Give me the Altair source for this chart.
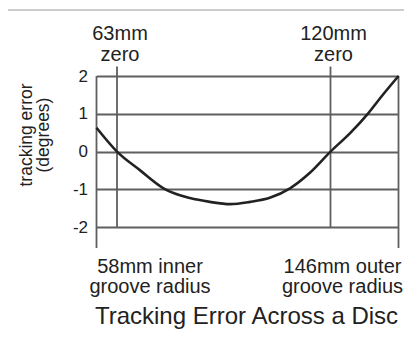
import altair as alt
import pandas as pd

# ---- data ----
radius_mm = [58, 63, 69.1, 75.4, 82.5, 87.8, 93.2, 98.5, 103.8, 109.2, 114.5, 120, 127.5, 134.5, 140.1, 146]
error_deg = [0.63, 0.0, -0.49, -0.97, -1.23, -1.33, -1.39, -1.33, -1.22, -0.97, -0.56, 0.0, 0.49, 1.02, 1.51, 2.0]
y_ticks = [-2, -1, 0, 1, 2]
zero_radius = [63, 120]
zero_labels = ["63mm\nzero", "120mm\nzero"]
groove_radius = [58, 146]
groove_labels = ["58mm inner\ngroove radius", "146mm outer\ngroove radius"]
chart_title = "Tracking Error Across a Disc"
y_title = "tracking error\n(degrees)"

FONT = "Liberation Sans"
INK = "#222222"
GRID = "#5f5f5f"

# the printed radius axis is not linear: piecewise mapping between the
# breakpoints 58, 63, 120 and 146 mm (computed by Vega-Lite)
PIECEWISE = (
    "datum.r <= 63 ? (datum.r - 58) * 20.5 / 5 : "
    "(datum.r <= 120 ? 20.5 + (datum.r - 63) * 213.5 / 57 : "
    "234 + (datum.r - 120) * 68 / 26)"
)
xscale = alt.Scale(domain=[0, 302], nice=False, zero=False)
yscale = alt.Scale(domain=[-2.55, 2], nice=False, zero=False)

curve_df = pd.DataFrame({"r": radius_mm, "e": error_deg})
zero_df = pd.DataFrame({"r": zero_radius, "label": zero_labels, "lo": [-2, -2], "hi": [2.25, 2.25]})
groove_df = pd.DataFrame({"r": groove_radius, "label": groove_labels})
inner_df = groove_df.iloc[[0]].reset_index(drop=True)
outer_df = groove_df.iloc[[1]].reset_index(drop=True)
one = pd.DataFrame({"t": [chart_title], "yt": [y_title]})

X = alt.X("pos:Q", scale=xscale, axis=None)

curve = alt.Chart(curve_df).transform_calculate(pos=PIECEWISE).mark_line(
    color=INK, strokeWidth=2.6, interpolate="monotone"
).encode(
    x=X,
    y=alt.Y(
        "e:Q",
        scale=yscale,
        axis=alt.Axis(
            values=y_ticks,
            grid=True,
            gridColor=GRID,
            gridWidth=1.8,
            gridOpacity=1,
            domain=False,
            ticks=False,
            labelFont=FONT,
            labelFontSize=17,
            labelColor=INK,
            labelPadding=9,
            labelExpr="'' + datum.value",
            title=None,
        ),
    ),
)

edges = alt.Chart(groove_df).transform_calculate(pos=PIECEWISE).mark_rule(
    color=GRID, strokeWidth=1.8
).encode(x=X, y=alt.value(0), y2=alt.value(172))

zero_lines = alt.Chart(zero_df).transform_calculate(pos=PIECEWISE).mark_rule(
    color=GRID, strokeWidth=1.8
).encode(x=X, y=alt.Y("lo:Q", scale=yscale), y2="hi:Q")

zero_text = alt.Chart(zero_df).transform_calculate(pos=PIECEWISE).mark_text(
    font=FONT, fontSize=20, color=INK, align="center", baseline="alphabetic",
    lineBreak="\n", lineHeight=20.5, dx=3,
).encode(x=X, y=alt.value(-36), text="label:N")

inner_text = alt.Chart(inner_df).transform_calculate(pos=PIECEWISE).mark_text(
    font=FONT, fontSize=20, color=INK, align="center", baseline="alphabetic",
    lineBreak="\n", lineHeight=20.5, dx=53.5,
).encode(x=X, y=alt.value(196.5), text="label:N")

outer_text = alt.Chart(outer_df).transform_calculate(pos=PIECEWISE).mark_text(
    font=FONT, fontSize=20, color=INK, align="center", baseline="alphabetic",
    lineBreak="\n", lineHeight=20.5, dx=-56,
).encode(x=X, y=alt.value(196.5), text="label:N")

title_text = alt.Chart(one).mark_text(
    font=FONT, fontSize=24, color=INK, align="center", baseline="alphabetic",
).encode(x=alt.value(150), y=alt.value(248.3), text="t:N")

ytitle_text = alt.Chart(one).mark_text(
    font=FONT, fontSize=17.5, color=INK, align="center", baseline="alphabetic",
    angle=270, lineBreak="\n", lineHeight=17.5,
).encode(x=alt.value(-65), y=alt.value(59), text="yt:N")

frame_top = alt.Chart(one).mark_rule(color="#bdbdbd", strokeWidth=1.5).encode(
    x=alt.value(-91.5), x2=alt.value(320), y=alt.value(-66)
)
frame_left = alt.Chart(one).mark_rule(color="#bdbdbd", strokeWidth=1.5).encode(
    x=alt.value(-91.5), y=alt.value(-66), y2=alt.value(280)
)

chart = alt.layer(
    frame_top, frame_left, edges, zero_lines, curve,
    zero_text, inner_text, outer_text, title_text, ytitle_text,
).properties(
    width=302,
    height=172,
    autosize=alt.AutoSizeParams(type="none"),
    padding={"left": 88.5, "top": 68, "right": 5.5, "bottom": 100},
).configure_view(stroke=None)

chart.save("out.html", embed_options={"renderer": "svg", "actions": False})
